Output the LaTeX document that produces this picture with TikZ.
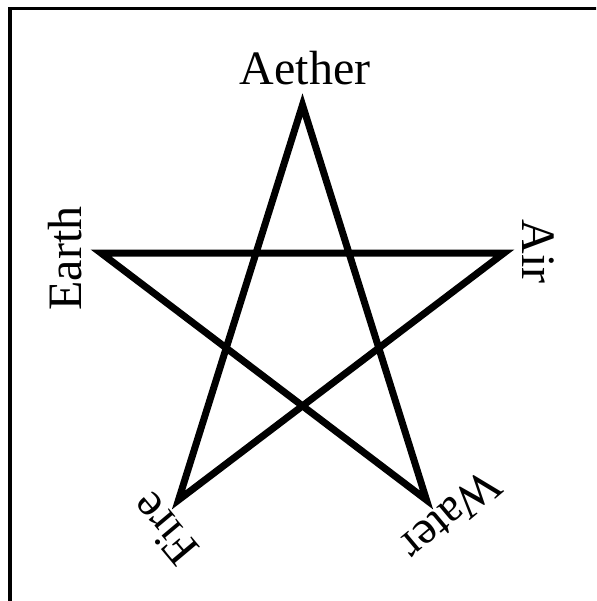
\documentclass[tikz,border=0pt]{standalone}
\usepackage{fontspec}
\setmainfont{Liberation Serif}
\tikzset{
  starline/.style={line width=7pt, draw=black, line join=miter},
  framebox/.style={line width=3.5pt, draw=black},
  element/.style={font=\fontsize{48}{58}\selectfont, inner sep=0pt},
}
\begin{document}
\begin{tikzpicture}[x=1pt, y=-1pt]
\useasboundingbox (0,0) rectangle (596,601);
\clip (0,0) rectangle (596,601);

% outer frame (runs past the right and bottom edges)
\draw[framebox] (10,8.7) rectangle (640,640);

% star points
\coordinate (aether) at (302.5,105);
\coordinate (earth)  at (101,253);
\coordinate (air)    at (504,253);
\coordinate (fire)   at (178.5,500);
\coordinate (water)  at (426.5,500);

\draw[starline] (aether) -- (fire) -- (air) -- (earth) -- (water) -- cycle;

% labels
\node (laether) [element, anchor=base] at (305,85) {Aether};
\node (learth)  [element, rotate=90]   at (65,258.5) {Earth};
\node (lair)    [element, rotate=-90]  at (538.5,251.5) {Air};
\node (lfire)   [element, rotate=130]  at (165,529) {Fire};
\node (lwater)  [element, rotate=-140] at (451,516) {Water};

\end{tikzpicture}
\end{document}
